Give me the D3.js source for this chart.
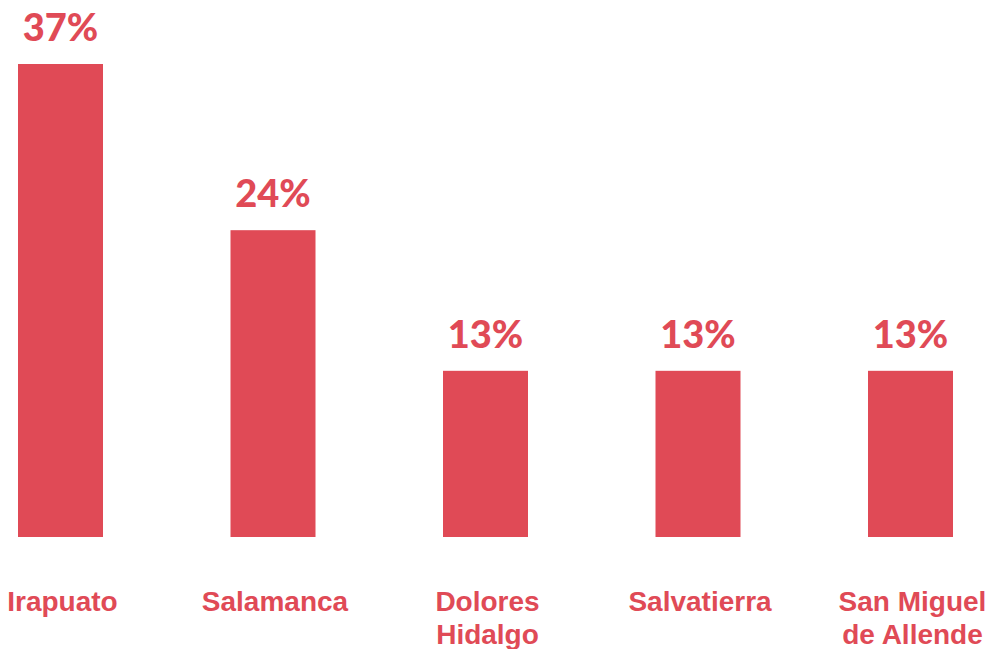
<!DOCTYPE html>
<html>
<head>
<meta charset="utf-8">
<script src="https://cdn.jsdelivr.net/npm/d3@7"></script>
<style>
html,body{margin:0;padding:0;background:#fff;}
svg{display:block;}
</style>
</head>
<body>
<svg id="chart" width="989" height="649"></svg>
<script>
const categories = [["Irapuato"], ["Salamanca"], ["Dolores", "Hidalgo"], ["Salvatierra"], ["San Miguel", "de Allende"]];
const values = [37, 24, 13, 13, 13];
const valueLabels = ["37%", "24%", "13%", "13%", "13%"];

const color = "#E04A56";
const svg = d3.select("#chart");

const keys = categories.map(c => c.join(" "));
const x = d3.scaleBand().domain(keys).range([18, 953]).paddingInner(0.6).paddingOuter(0);
const y = d3.scaleLinear().domain([0, 37]).range([537, 64]);

const data = keys.map((k, i) => ({key: k, lines: categories[i], v: values[i], label: valueLabels[i]}));

svg.selectAll("rect.bar").data(data).enter().append("rect")
  .attr("class", "bar")
  .attr("x", d => x(d.key))
  .attr("y", d => y(d.v))
  .attr("width", x.bandwidth())
  .attr("height", d => y(0) - y(d.v))
  .attr("fill", color);

svg.selectAll("text.val").data(data).enter().append("text")
  .attr("class", "val")
  .attr("x", d => x(d.key) + x.bandwidth() / 2)
  .attr("y", d => y(d.v) - 23)
  .attr("text-anchor", "middle")
  .attr("font-family", "Lato, 'Open Sans', sans-serif")
  .attr("font-weight", "900")
  .attr("font-size", 38)
  .attr("fill", color)
  .text(d => d.label);

const cat = svg.selectAll("text.cat").data(data).enter().append("text")
  .attr("class", "cat")
  .attr("x", d => x(d.key) + x.bandwidth() / 2 + 2)
  .attr("y", 611)
  .attr("text-anchor", "middle")
  .attr("font-family", "'Liberation Sans', Arial, sans-serif")
  .attr("font-weight", "bold")
  .attr("font-size", 28)
  .attr("fill", color);
cat.selectAll("tspan").data(d => d.lines.map(l => ({l, cx: x(d.key) + x.bandwidth() / 2 + 2}))).enter().append("tspan")
  .attr("x", t => t.cx)
  .attr("dy", (t, i) => i === 0 ? 0 : 33)
  .text(t => t.l);
</script>
</body>
</html>
